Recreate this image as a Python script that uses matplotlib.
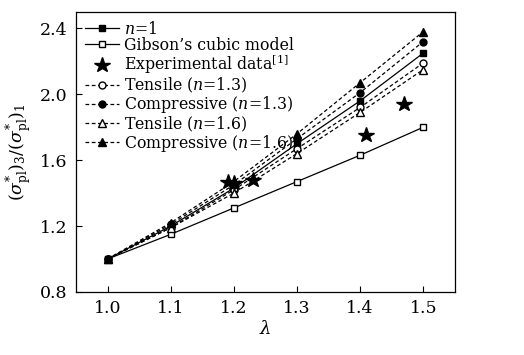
import numpy as np
import matplotlib
matplotlib.use("Agg")
import matplotlib.pyplot as plt

# ── data ─────────────────────────────────────────────────────────────────
LAM = [1.0, 1.1, 1.2, 1.3, 1.4, 1.5]
N1 = [1.00, 1.20, 1.43, 1.70, 1.96, 2.25]
GIBSON = [1.00, 1.15, 1.31, 1.47, 1.63, 1.80]
TENS_13 = [1.00, 1.19, 1.42, 1.67, 1.92, 2.19]
COMP_13 = [1.00, 1.21, 1.45, 1.73, 2.01, 2.32]
TENS_16 = [1.00, 1.19, 1.40, 1.64, 1.89, 2.15]
COMP_16 = [1.00, 1.22, 1.47, 1.76, 2.07, 2.38]
EXP_X = [1.19, 1.20, 1.23, 1.41, 1.47]
EXP_Y = [1.47, 1.46, 1.48, 1.75, 1.94]

plt.rcParams.update({
    "font.family": "DejaVu Serif",
    "mathtext.fontset": "dejavuserif",
    "font.size": 12,
})

fig = plt.figure(figsize=(5.24, 3.55), dpi=100)
ax = fig.add_axes([0.145, 0.1775, 0.723, 0.789])

lw = 0.9
ax.plot(LAM, N1, "k-s", lw=lw, ms=4.5, label=r"$n$=1")
ax.plot(LAM, GIBSON, "k-s", lw=lw, ms=4.5, mfc="white", label="Gibson\u2019s cubic model")
ax.plot(EXP_X, EXP_Y, "k*", ms=11.5, ls="none", label=r"Experimental data$^{\rm [1]}$")
ax.plot(LAM, TENS_13, "k--o", lw=lw, ms=5, mfc="white", dashes=(3, 2), label=r"Tensile ($n$=1.3)")
ax.plot(LAM, COMP_13, "k--o", lw=lw, ms=5, dashes=(3, 2), label=r"Compressive ($n$=1.3)")
ax.plot(LAM, TENS_16, "k--^", lw=lw, ms=5.5, mfc="white", dashes=(3, 2), label=r"Tensile ($n$=1.6)")
ax.plot(LAM, COMP_16, "k--^", lw=lw, ms=5.5, dashes=(3, 2), label=r"Compressive ($n$=1.6)")

ax.set_xlim(0.95, 1.55)
ax.set_ylim(0.8, 2.5)
ax.set_xticks([1.0, 1.1, 1.2, 1.3, 1.4, 1.5])
ax.set_yticks([0.8, 1.2, 1.6, 2.0, 2.4])
ax.tick_params(direction="in", length=4.5, width=0.8, pad=6, labelsize=12.5)
for s in ax.spines.values():
    s.set_linewidth(0.9)

ax.set_xlabel(r"$\lambda$", fontsize=13, labelpad=2)
ax.set_ylabel(r"$(\sigma^{*}_{\rm pl})_3/(\sigma^{*}_{\rm pl})_1$", fontsize=12.5, labelpad=4)

ax.legend(loc="upper left", frameon=False, fontsize=11.3, handlelength=2.2,
          handletextpad=0.3, labelspacing=-0.05, borderaxespad=0.35,
          borderpad=0.2)

fig.savefig("out.png", dpi=100)
